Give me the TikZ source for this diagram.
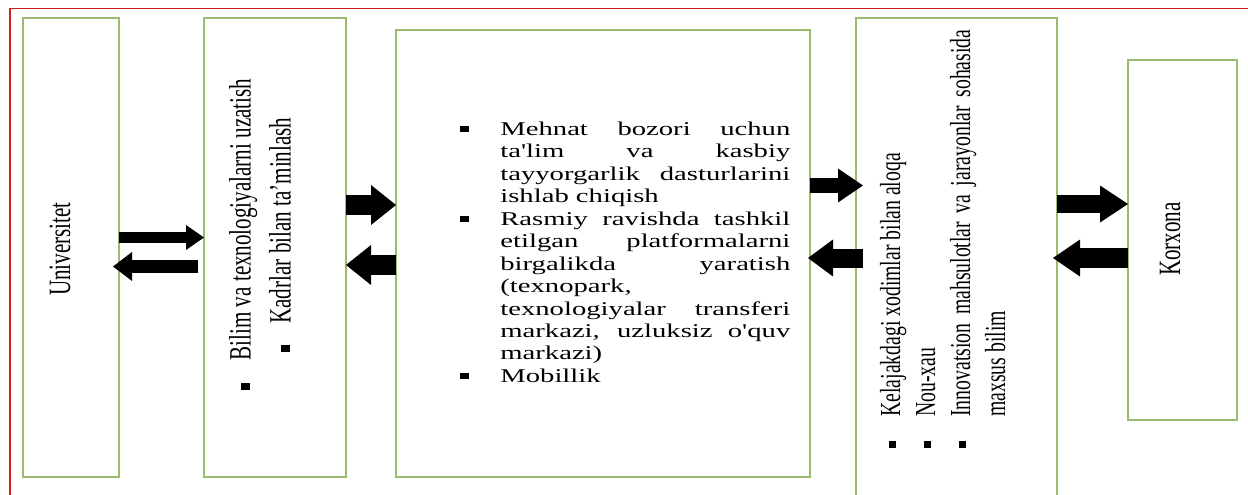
\documentclass[tikz,border=0pt]{standalone}
\usepackage{fontspec}
\setmainfont{Liberation Serif}
\newfontfamily\wideserif{Liberation Serif}[FakeStretch=1.47]
\newfontfamily\tallserif{Liberation Serif}[FakeStretch=0.68]
\usetikzlibrary{arrows.meta}
\definecolor{boxgreen}{RGB}{155,187,110}
\definecolor{framered}{RGB}{210,30,30}
\tikzset{every picture/.style={line width=0.75pt}}
\tikzset{
  greenbox/.style={draw=boxgreen, line width=1.6pt, anchor=north west, inner sep=0pt, outer sep=0pt},
  fatarrow/.style n args={3}{line width=#1, -{Triangle[length=#3, width=#2, line width=0pt]}},
  sidetext/.style={rotate=90, inner sep=0pt, font=\tallserif\fontsize{31}{37}\selectfont},
}
\newcommand{\hangitem}[3]{\noindent\hangindent=#1\hangafter=1\makebox[#1][l]{#2}#3\par}

\begin{document}
\begin{tikzpicture}[x=1pt,y=-1pt]
\useasboundingbox (0,0) rectangle (1248,495);
\clip (0,0) rectangle (1248,495);
\fill[white] (0,0) rectangle (1248,495);

%Straight Lines (frame)
\draw[framered, line width=1.2pt] (10,505) -- (10,8.5) -- (1255,8.5);

%Shape: Rectangle
\node[greenbox, minimum width=96pt, minimum height=459pt] (uni) at (23,18) {};
%Shape: Rectangle
\node[greenbox, minimum width=142pt, minimum height=459pt] (kad) at (204,18) {};
%Shape: Rectangle
\node[greenbox, minimum width=414pt, minimum height=447pt] (mid) at (396,30) {};
%Shape: Rectangle
\node[greenbox, minimum width=201pt, minimum height=495pt] (kel) at (856,18) {};
%Shape: Rectangle
\node[greenbox, minimum width=109pt, minimum height=360pt] (kor) at (1128,60) {};

%Block Arrows
\draw[fatarrow={11pt}{25pt}{18pt}] (uni.east |- 0,237.5) -- (kad.west |- 0,237.5);
\draw[fatarrow={13pt}{29pt}{19pt}, shorten <=6pt, shorten >=-6pt] (kad.west |- 0,266.5) -- (uni.east |- 0,266.5);
\draw[fatarrow={20pt}{40pt}{25pt}] (kad.east |- 0,205) -- (mid.west |- 0,205);
\draw[fatarrow={20pt}{40pt}{25pt}] (mid.west |- 0,265) -- (kad.east |- 0,265);
\draw[fatarrow={15pt}{34pt}{25pt}, shorten >=-7pt] (mid.east |- 0,185.5) -- (kel.west |- 0,185.5);
\draw[fatarrow={19pt}{37pt}{25pt}, shorten <=-7pt, shorten >=-2pt] (kel.west |- 0,258) -- (mid.east |- 0,258);
\draw[fatarrow={18pt}{37pt}{28pt}] (kel.east |- 0,204) -- (kor.west |- 0,204);
\draw[fatarrow={20pt}{37pt}{27pt}, shorten >=-4pt] (kor.west |- 0,258) -- (kel.east |- 0,258);

% Text Node
\node[sidetext] (unitxt) at (60,249) {Universitet};
% Text Node
\node[rotate=90, anchor=base west, inner sep=0pt, font=\tallserif\fontsize{31}{37}\selectfont] (bilim) at (250.7,390) {\rule[1pt]{7pt}{9pt}\hspace{22.3pt}Bilim va texnologiyalarni uzatish};
% Text Node
\node[rotate=90, anchor=base west, inner sep=0pt, font=\tallserif\fontsize{31}{37}\selectfont] (kadrlar) at (290.7,352) {\rule[1pt]{7pt}{9pt}\hspace{21pt}Kadrlar bilan ta’minlash};
% Text Node
\node[anchor=base west, inner sep=0pt] (mehnat) at (460,135) {\begin{minipage}[t]{330pt}
\wideserif\fontsize{19.5}{22.5}\selectfont\tolerance=10000\hyphenpenalty=10000\parskip=0pt
\hangitem{40pt}{\rule[3.2pt]{9pt}{6pt}}{Mehnat bozori uchun\linebreak ta'lim va kasbiy\linebreak tayyorgarlik dasturlarini\linebreak ishlab chiqish}
\hangitem{40pt}{\rule[3.2pt]{9pt}{6pt}}{Rasmiy ravishda tashkil\linebreak etilgan platformalarni\linebreak birgalikda yaratish\linebreak (texnopark,\newline texnologiyalar transferi\linebreak markazi, uzluksiz o'quv\linebreak markazi)}
\hangitem{40pt}{\rule[3.2pt]{9pt}{6pt}}{Mobillik}
\end{minipage}};
% Text Node
\node[rotate=90, anchor=base west, inner sep=0pt] (aloqa) at (900,448.5) {\begin{minipage}[t]{418.5pt}
\tallserif\fontsize{29}{35}\selectfont\tolerance=10000\hyphenpenalty=10000\parskip=0pt
\hangitem{31.5pt}{\rule[4.5pt]{7pt}{7pt}}{Kelajakdagi xodimlar bilan aloqa}
\hangitem{31.5pt}{\rule[4.5pt]{7pt}{7pt}}{Nou-xau}
\hangitem{31.5pt}{\rule[4.5pt]{7pt}{7pt}}{Innovatsion mahsulotlar va jarayonlar sohasida\linebreak maxsus bilim}
\end{minipage}};
% Text Node
\node[sidetext] (kortxt) at (1170,239) {Korxona};

\end{tikzpicture}
\end{document}
